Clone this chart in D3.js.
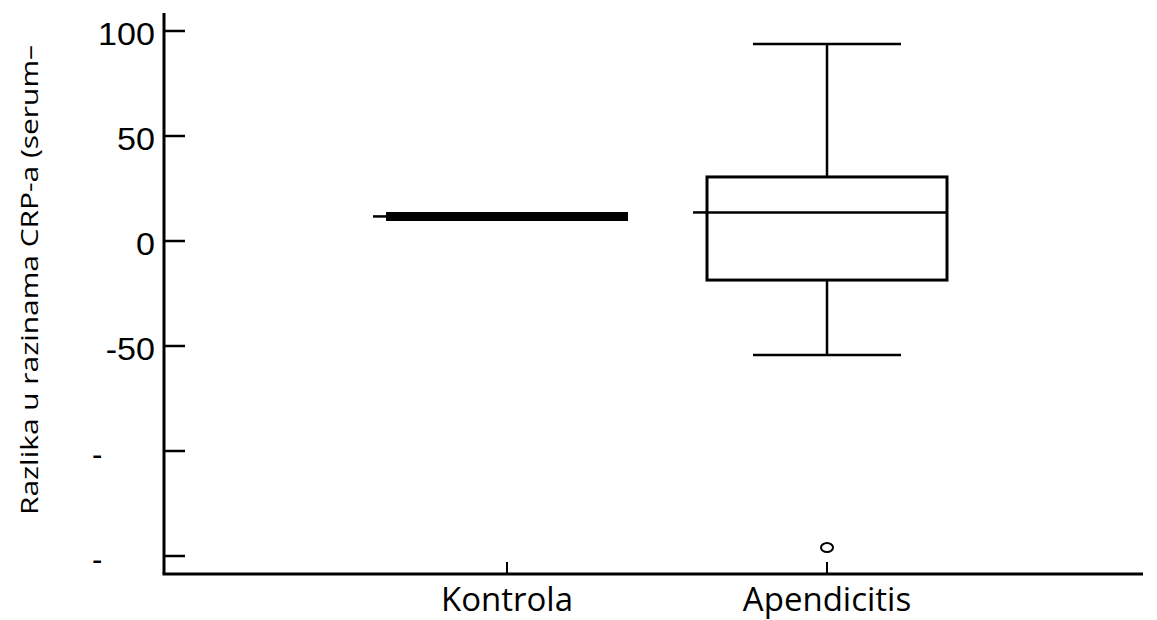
<!DOCTYPE html>
<html>
<head>
<meta charset="utf-8">
<script src="https://cdn.jsdelivr.net/npm/d3@7"></script>
<style>
  body { margin: 0; background: #fff; }
  svg { display: block; }
</style>
</head>
<body>
<svg width="1157" height="620"></svg>
<script>
// data
var groups = ["Kontrola", "Apendicitis"];
var whiskerLow = [11.7, -54.3];
var q1 = [11.7, -18.6];
var median = [11.7, 13.6];
var q3 = [11.7, 30.5];
var whiskerHigh = [11.7, 93.8];
var outliers = [[], [-146]];
var yTicks = [100, 50, 0, -50, -100, -150];
var yLabel = "Razlika u razinama CRP-a (serum\u2013";

var svg = d3.select("svg"),
    width = +svg.attr("width"),
    height = +svg.attr("height");

var plotLeft = 164, plotRight = 1143, plotTop = 13, plotBottom = 574;

var y = d3.scaleLinear().domain([0, 100]).range([241, 31]);
var x = d3.scalePoint().domain(groups).range([507, 827]);

var boxW = 240, capW = 148, stub = 14;

var g = svg.append("g").attr("stroke", "#000").attr("fill", "none");

// y axis
g.append("line").attr("x1", plotLeft).attr("x2", plotLeft).attr("y1", plotTop).attr("y2", plotBottom).attr("stroke-width", 3);
g.selectAll(".ytick").data(yTicks).enter().append("line")
  .attr("x1", plotLeft).attr("x2", plotLeft + 21)
  .attr("y1", function(d) { return y(d); }).attr("y2", function(d) { return y(d); })
  .attr("stroke-width", 2.5);

svg.append("g").selectAll("text").data(yTicks).enter().append("text")
  .attr("x", function(d) { return d < -50 ? 92 : 155; })
  .attr("y", function(d) { return y(d); })
  .attr("dy", "0.45em")
  .attr("text-anchor", function(d) { return d < -50 ? "start" : "end"; })
  .attr("font-family", "Liberation Sans, Arial, sans-serif")
  .attr("font-size", "31px")
  .attr("transform", function(d) { return d < -50 ? null : "translate(155,0) scale(1.1,1) translate(-155,0)"; })
  .text(function(d) { return d < -50 ? "-" : d; });

// x axis
g.append("line").attr("x1", plotLeft - 1.5).attr("x2", plotRight).attr("y1", plotBottom).attr("y2", plotBottom).attr("stroke-width", 3);
g.selectAll(".xtick").data(groups).enter().append("line")
  .attr("x1", function(d) { return x(d); }).attr("x2", function(d) { return x(d); })
  .attr("y1", plotBottom).attr("y2", plotBottom - 12)
  .attr("stroke-width", 2);

svg.append("g").selectAll("text").data(groups).enter().append("text")
  .attr("x", function(d) { return x(d); })
  .attr("y", 611)
  .attr("text-anchor", "middle")
  .attr("font-family", "Open Sans, sans-serif")
  .attr("font-size", "33px")
  .text(function(d) { return d; });

svg.append("text")
  .attr("transform", "translate(38,280) rotate(-90)")
  .attr("text-anchor", "middle")
  .attr("font-family", "Open Sans, sans-serif")
  .attr("font-size", "24px")
  .attr("textLength", 470)
  .attr("lengthAdjust", "spacingAndGlyphs")
  .text(yLabel);

// boxes
groups.forEach(function(name, i) {
  var cx = x(name);
  var bg = g.append("g");
  if (q3[i] === q1[i]) {
    // collapsed box: a heavy line
    bg.append("line")
      .attr("x1", cx - 121).attr("x2", cx + 121)
      .attr("y1", y(median[i])).attr("y2", y(median[i]))
      .attr("stroke-width", 9);
  } else {
    bg.append("line").attr("x1", cx).attr("x2", cx)
      .attr("y1", y(whiskerHigh[i])).attr("y2", y(q3[i])).attr("stroke-width", 2.5);
    bg.append("line").attr("x1", cx).attr("x2", cx)
      .attr("y1", y(q1[i])).attr("y2", y(whiskerLow[i])).attr("stroke-width", 2.5);
    [whiskerHigh[i], whiskerLow[i]].forEach(function(v) {
      bg.append("line").attr("x1", cx - capW / 2).attr("x2", cx + capW / 2)
        .attr("y1", y(v)).attr("y2", y(v)).attr("stroke-width", 2.5);
    });
    bg.append("rect")
      .attr("x", cx - boxW / 2).attr("width", boxW)
      .attr("y", y(q3[i])).attr("height", y(q1[i]) - y(q3[i]))
      .attr("stroke-width", 3);
    bg.append("line")
      .attr("x1", cx - boxW / 2).attr("x2", cx + boxW / 2)
      .attr("y1", y(median[i])).attr("y2", y(median[i]))
      .attr("stroke-width", 2.5);
  }
  // median stub to the left
  bg.append("line")
    .attr("x1", cx - boxW / 2 - stub).attr("x2", cx - boxW / 2)
    .attr("y1", y(median[i])).attr("y2", y(median[i]))
    .attr("stroke-width", 2.5);

  bg.selectAll("ellipse").data(outliers[i]).enter().append("ellipse")
    .attr("cx", cx).attr("cy", function(d) { return y(d); })
    .attr("rx", 6).attr("ry", 4.5)
    .attr("stroke-width", 2);
});
</script>
</body>
</html>
